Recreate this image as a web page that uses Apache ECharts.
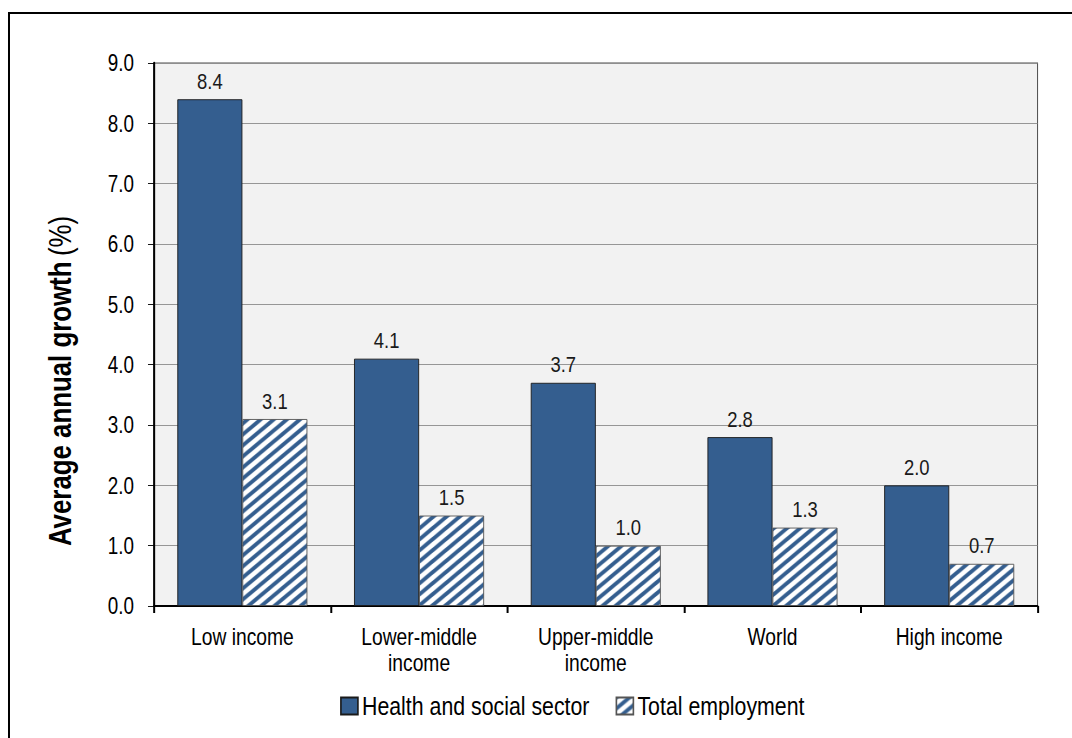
<!DOCTYPE html>
<html>
<head>
<meta charset="utf-8">
<title>Average annual growth</title>
<script src="https://cdn.jsdelivr.net/npm/echarts@6/dist/echarts.min.js"></script>
<style>
  html, body { margin: 0; padding: 0; background: #ffffff; overflow: hidden; }
  /* The chart is laid out wide and squeezed horizontally so the text reads as a narrow face */
  #chart { width: 1308px; height: 738px; transform: scaleX(0.82); transform-origin: 0 0; }
</style>
</head>
<body>
<div id="chart"></div>
<script>
// Categories and series values
const categories = ['Low income', 'Lower-middle\nincome', 'Upper-middle\nincome', 'World', 'High income'];
const healthSocial = [8.4, 4.1, 3.7, 2.8, 2.0];
const totalEmployment = [3.1, 1.5, 1.0, 1.3, 0.7];
const seriesNames = ['Health and social sector', 'Total employment'];
// Value axis range
const yMin = 0;
const yMax = 9;
const yStep = 1;

const SX = 0.82;            // horizontal squeeze applied to the container
const X = v => v / SX;      // page x-distance -> chart x-distance
const FONT = "'Liberation Sans', Arial, sans-serif";
const BLUE = '#345e8f';

// Diagonal hatch tile for the total-employment bars
function hatchPattern() {
  const w = 16, h = 11;
  const c = document.createElement('canvas');
  c.width = w; c.height = h;
  const g = c.getContext('2d');
  g.fillStyle = '#ffffff';
  g.fillRect(0, 0, w, h);
  g.strokeStyle = BLUE;
  g.lineWidth = 4.2;
  g.beginPath();
  g.moveTo(-w, 2 * h); g.lineTo(2 * w, -h);
  g.moveTo(-2 * w, 2 * h); g.lineTo(w, -h);
  g.moveTo(0, 2 * h); g.lineTo(3 * w, -h);
  g.stroke();
  return { image: c, repeat: 'repeat' };
}

const chart = echarts.init(document.getElementById('chart'), null, { renderer: 'svg' });

const valueLabel = {
  show: true,
  position: 'top',
  distance: 7,
  color: '#1a1a1a',
  fontFamily: FONT,
  fontSize: 22.5,
  formatter: p => p.value.toFixed(1)
};

chart.setOption({
  animation: false,
  backgroundColor: '#ffffff',
  textStyle: { fontFamily: FONT },
  graphic: [
    {
      type: 'line',
      shape: { x1: X(9), y1: 12, x2: X(9), y2: 760 },
      style: { stroke: '#000000', lineWidth: X(2) },
      silent: true
    },
    {
      type: 'line',
      shape: { x1: X(8), y1: 13, x2: 1400, y2: 13 },
      style: { stroke: '#000000', lineWidth: 2 },
      silent: true
    },
    {
      type: 'text',
      x: X(60),
      y: 381,
      rotation: Math.PI / 2,
      scaleX: SX,
      scaleY: 1 / SX,
      style: {
        text: '{b|Average annual growth}  {n|(%)}',
        align: 'center',
        verticalAlign: 'middle',
        rich: {
          b: { fontFamily: FONT, fontSize: 31.5, fontWeight: 'bold', fill: '#000000' },
          n: { fontFamily: FONT, fontSize: 31.5, fontWeight: 'normal', fill: '#000000' }
        }
      }
    }
  ],
  grid: {
    left: X(154),
    right: X(35),
    top: 63,
    bottom: 132,
    show: true,
    backgroundColor: '#f2f2f2',
    borderColor: '#4d4d4d',
    borderWidth: X(1)
  },
  legend: {
    left: X(336),
    top: 688,
    icon: 'rect',
    itemWidth: X(17),
    itemHeight: 17,
    itemGap: X(26),
    textStyle: { fontFamily: FONT, fontSize: 26, color: '#000000' },
    data: seriesNames
  },
  xAxis: {
    type: 'category',
    data: categories,
    axisLine: { lineStyle: { color: '#000000', width: 2 } },
    axisTick: { show: true, length: 7, lineStyle: { color: '#000000', width: X(2) } },
    axisLabel: {
      interval: 0,
      color: '#000000',
      fontFamily: FONT,
      fontSize: 23.5,
      lineHeight: 26,
      margin: 18
    }
  },
  yAxis: {
    type: 'value',
    min: yMin,
    max: yMax,
    interval: yStep,
    axisLine: { show: true, lineStyle: { color: '#000000', width: X(2) } },
    axisTick: { show: true, length: X(6), lineStyle: { color: '#000000', width: 1 } },
    axisLabel: {
      color: '#000000',
      fontFamily: FONT,
      fontSize: 23,
      margin: X(20),
      formatter: v => v.toFixed(1)
    },
    splitLine: { show: true, lineStyle: { color: '#8c8c8c', width: 1 } }
  },
  series: [
    {
      name: seriesNames[0],
      type: 'bar',
      data: healthSocial,
      barWidth: X(65),
      barGap: '0%',
      itemStyle: { color: BLUE, borderColor: '#1a1a1a', borderWidth: 1 },
      label: valueLabel
    },
    {
      name: seriesNames[1],
      type: 'bar',
      data: totalEmployment,
      barWidth: X(65),
      barGap: '0%',
      itemStyle: { color: hatchPattern(), borderColor: '#555555', borderWidth: 1 },
      label: valueLabel
    }
  ]
});
</script>
</body>
</html>
